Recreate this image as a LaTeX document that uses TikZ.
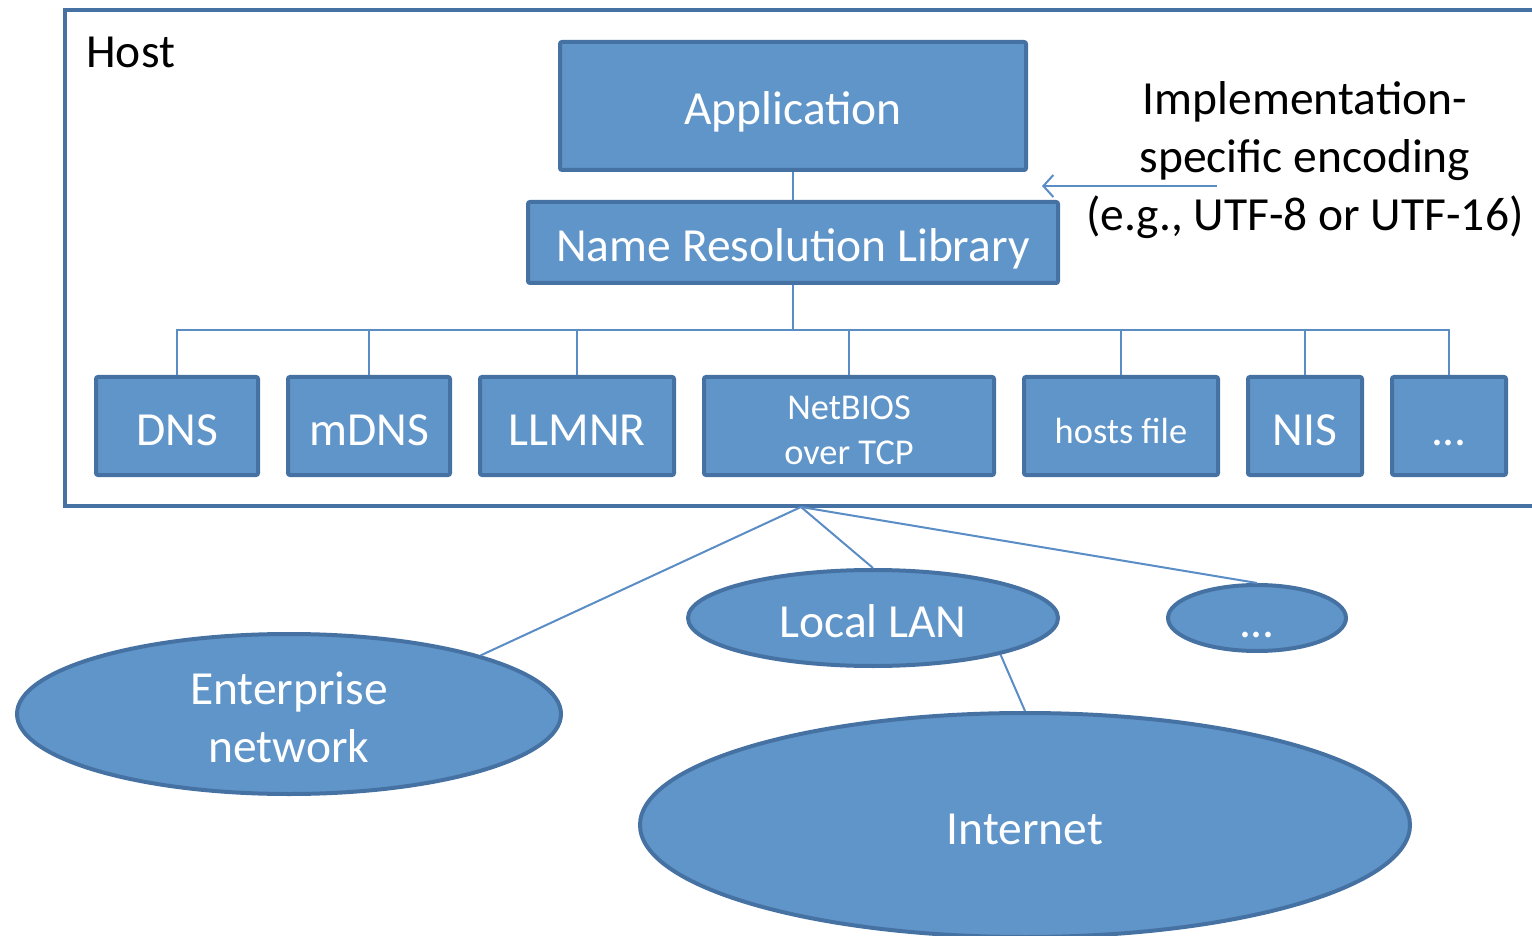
\documentclass[tikz,border=0pt]{standalone}
\usepackage{fontspec}
\setmainfont{Carlito}
\usetikzlibrary{shapes.geometric,arrows.meta}
\definecolor{boxfill}{HTML}{6095C9}
\definecolor{boxline}{HTML}{4672A3}
\definecolor{conn}{HTML}{5A8CC6}
\newcommand{\bigtxt}{\fontsize{23.75}{29}\selectfont}
\newcommand{\smalltxt}{\fontsize{18.2}{22.2}\selectfont}
\newcommand{\lowerby}[2]{\rule{0pt}{\dimexpr\fontcharht\font`#1+#2\relax}}
\tikzset{
  box/.style={draw=boxline, line width=2pt, fill=boxfill, text=white, rounded corners=1pt, inner sep=0pt, font=\bigtxt, align=center},
  smallbox/.style={box, font=\smalltxt},
  cloud/.style={ellipse, draw=boxline, line width=2pt, fill=boxfill, text=white, inner sep=0pt, font=\bigtxt, align=center},
  sline/.style={text height=19pt, text depth=0pt},
  hostbox/.style={draw=boxline, line width=2pt, inner sep=0pt},
  conline/.style={draw=conn, line width=1pt},
}
\begin{document}
\begin{tikzpicture}[x=0.5pt, y=-0.5pt]
\useasboundingbox (0,0) rectangle (1532,936);
\clip (0,0) rectangle (1532,936);
% host frame
\node[hostbox, minimum width=740pt, minimum height=248pt] (host) at (805,258) {};
\node[anchor=base west, font=\bigtxt, inner sep=0pt] (hostlabel) at (86,68) {Host};
% top boxes
\node[box, sline, minimum width=233pt, minimum height=64pt] (app) at (793,106) {Application};
\node[box, sline, minimum width=265pt, minimum height=40.5pt] (nrl) at (793,242.5) {Name Resolution Library};
% bottom boxes
\node[box, sline, minimum width=81pt, minimum height=49pt] (dns) at (177,426) {DNS};
\node[box, sline, minimum width=81pt, minimum height=49pt] (mdns) at (369,426) {mDNS};
\node[box, sline, minimum width=97pt, minimum height=49pt] (llmnr) at (577,426) {LLMNR};
\node[smallbox, minimum width=145pt, minimum height=49pt] (netbios) at (849,426) {\lowerby{O}{4.5pt}NetBIOS\\over TCP};
\node[smallbox, text height=17pt, text depth=0pt, minimum width=97pt, minimum height=49pt] (hosts) at (1121,426) {hosts file};
\node[box, sline, minimum width=57pt, minimum height=49pt] (nis) at (1305,426) {NIS};
\node[box, sline, minimum width=57pt, minimum height=49pt] (more) at (1449,426) {...};
% tree connectors
\coordinate (bus) at (793,330);
\draw[conline] (app.south) -- (nrl.north);
\draw[conline] (nrl.south) -- (bus);
\foreach \b in {dns,mdns,llmnr,netbios,hosts,nis,more}{
  \draw[conline] (\b.north) |- (bus);
}
% annotation
\node[font=\bigtxt, align=center, inner sep=0pt] (note) at (1305,160) {Implementation-\\specific encoding\\(e.g., UTF-8 or UTF-16)};
\coordinate (arrstart) at (1217,186);
\coordinate (arrend) at (1042,186);
\draw[conline, -{Straight Barb[length=5pt,width=11pt]}] (arrstart) -- (arrend);
% networks
\node[cloud, sline, minimum width=185pt, minimum height=48pt] (lan) at (873,618) {Local LAN};
\node[cloud, sline, minimum width=89pt, minimum height=33pt] (dots) at (1257,618) {...};
\node[cloud, minimum width=272pt, minimum height=80pt] (ent) at (289,714) {\lowerby{i}{3pt}Enterprise\\network};
\node[cloud, sline, minimum width=385pt, minimum height=112pt] (inet) at (1025,825) {Internet};
\coordinate (hb) at (801,507);
\draw[conline] (hb) -- (ent.17);
\draw[conline] (hb) -- (lan.north);
\draw[conline] (hb) -- (dots.north);
\draw[conline] (lan.-16) -- (inet.north);
\end{tikzpicture}
\end{document}
